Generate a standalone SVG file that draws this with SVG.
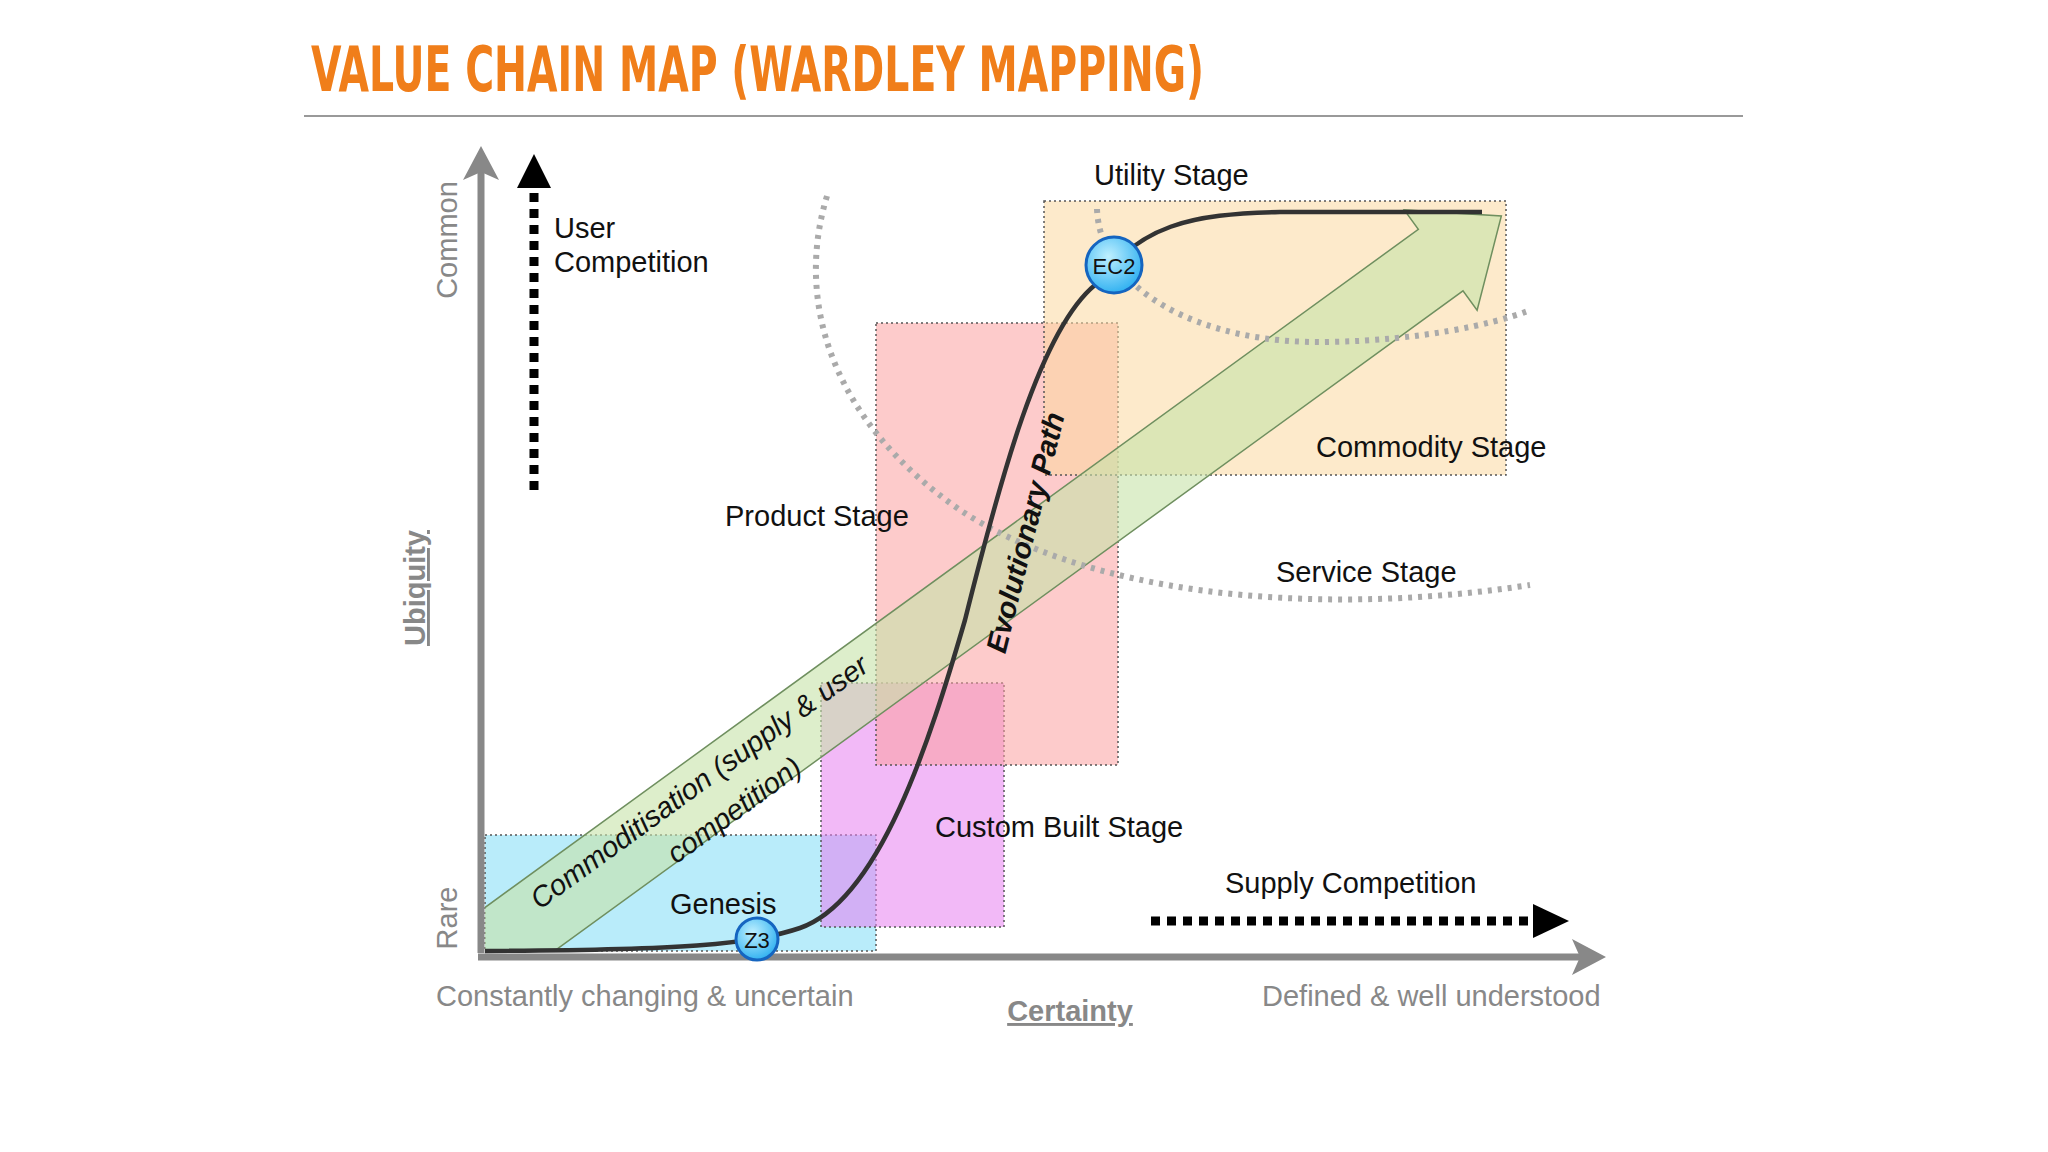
<svg xmlns="http://www.w3.org/2000/svg" width="2048" height="1152" viewBox="0 0 2048 1152">
<defs>
<style>
text{font-family:"Liberation Sans",Arial,sans-serif}
.lbl{font-size:29px;fill:#111}
.ax{font-size:29px;fill:#888}
.st{fill-opacity:0.55;stroke:#555;stroke-width:1.5;stroke-dasharray:2 3}
</style>
<marker id="ah" viewBox="0 0 10 10" refX="5" refY="5" markerWidth="5" markerHeight="5" orient="auto"><path d="M0,0L10,5L0,10z" fill="#000"/></marker>
<radialGradient id="bub" cx="0.4" cy="0.35" r="0.7"><stop offset="0" stop-color="#bff0ff"/><stop offset="1" stop-color="#2aaef0"/></radialGradient>
<clipPath id="clip"><rect x="485" y="100" width="1200" height="851"/></clipPath>
</defs>
<rect width="2048" height="1152" fill="#fff"/>
<g id="title">
<text x="311" y="91" font-size="62" font-weight="bold" fill="#F07E1A" textLength="893" lengthAdjust="spacingAndGlyphs" style="font-family:'DejaVu Sans Condensed','Liberation Sans Narrow','Liberation Sans',sans-serif">VALUE CHAIN MAP (WARDLEY MAPPING)</text>
<line x1="304" y1="116" x2="1743" y2="116" stroke="#999" stroke-width="2"/>
</g>
<g id="stages">
<rect id="genesis-box" x="485" y="835" width="391" height="116" fill="#7fdcf5" class="st"/>
<rect id="custom-box" x="821" y="683" width="183" height="244" fill="#e880f0" class="st"/>
<rect id="product-box" x="876" y="323" width="242" height="442" fill="#fca0a0" class="st"/>
<rect id="commodity-box" x="1044" y="201" width="462" height="274" fill="#fcd9a0" class="st"/>
</g>
<g id="commoditisation">
<g clip-path="url(#clip)">
<polygon transform="translate(520,929) rotate(-36)" points="-120,-38 1138,-38 1138,-62 1213,0 1138,62 1138,38 -120,38" fill="#c6e3a8" fill-opacity="0.6" stroke="#6f8f5f" stroke-width="1.5"/>
</g>
<text class="lbl" font-style="italic" transform="translate(705,790) rotate(-36)" text-anchor="middle">Commoditisation (supply &amp; user</text>
<text class="lbl" font-style="italic" transform="translate(740,818) rotate(-36)" text-anchor="middle">competition)</text>
</g>
<g id="connectors" fill="none">
<path d="M827,196 C795,300 830,420 960,510 C1080,590 1300,620 1530,585" stroke="#aaa" stroke-width="6" stroke-dasharray="4 6"/>
<path d="M1097,209 C1100,290 1200,345 1330,342 C1420,340 1490,325 1528,311" stroke="#aaa" stroke-width="6" stroke-dasharray="4 6"/>
<line x1="481" y1="953" x2="481" y2="172" stroke="#888" stroke-width="7"/>
<polygon points="481,146 463,180 481,172 499,180" fill="#888"/>
<line x1="478" y1="957" x2="1580" y2="957" stroke="#888" stroke-width="7"/>
<polygon points="1606,957 1572,939 1580,957 1572,975" fill="#888"/>
<line x1="534" y1="490" x2="534" y2="186" stroke="#000" stroke-width="9" stroke-dasharray="9 7"/>
<polygon points="534,154 517,188 551,188" fill="#000"/>
<line x1="1151" y1="921" x2="1535" y2="921" stroke="#000" stroke-width="9" stroke-dasharray="9 7"/>
<polygon points="1569,921 1533,904 1533,938" fill="#000"/>
<path d="M485,951 C680,950 750,945 800,928 C880,900 930,740 965,620 C1000,480 1040,330 1095,285 C1140,225 1190,214 1280,212 L1482,212" stroke="#333" stroke-width="4.5"/>
</g>
<g id="z3"><circle cx="757" cy="939" r="21" fill="url(#bub)" stroke="#1565c0" stroke-width="3"/><text x="757" y="948" font-size="22" text-anchor="middle" fill="#111">Z3</text></g>
<g id="ec2"><circle cx="1114" cy="265" r="28" fill="url(#bub)" stroke="#1565c0" stroke-width="3"/><text x="1114" y="274" font-size="22" text-anchor="middle" fill="#111">EC2</text></g>
<g id="labels">
<text class="lbl" x="554" y="238">User</text>
<text class="lbl" x="554" y="272">Competition</text>
<text class="lbl" x="1094" y="185">Utility Stage</text>
<text class="lbl" x="1316" y="457">Commodity Stage</text>
<text class="lbl" x="725" y="526">Product Stage</text>
<text class="lbl" x="1276" y="582">Service Stage</text>
<text class="lbl" x="935" y="837">Custom Built Stage</text>
<text class="lbl" x="670" y="914">Genesis</text>
<text class="lbl" x="1225" y="893">Supply Competition</text>
<text class="lbl" font-weight="bold" font-style="italic" transform="translate(1035,535) rotate(-76)" text-anchor="middle">Evolutionary Path</text>
<text class="ax" x="436" y="1006">Constantly changing &amp; uncertain</text>
<text class="ax" x="1262" y="1006">Defined &amp; well understood</text>
<text class="ax" x="1070" y="1021" text-anchor="middle" font-weight="bold" text-decoration="underline">Certainty</text>
<text class="ax" transform="translate(457,240) rotate(-90)" text-anchor="middle">Common</text>
<text class="ax" transform="translate(457,918) rotate(-90)" text-anchor="middle">Rare</text>
<text class="ax" transform="translate(425,588) rotate(-90)" text-anchor="middle" font-weight="bold" text-decoration="underline">Ubiquity</text>
</g>
</svg>
